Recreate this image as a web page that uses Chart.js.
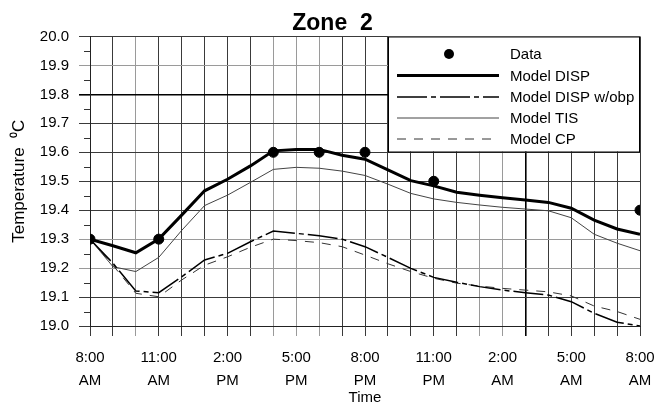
<!DOCTYPE html>
<html><head><meta charset="utf-8">
<script src="https://cdn.jsdelivr.net/npm/chart.js@4.4.0/dist/chart.umd.min.js"></script>
<style>html,body{margin:0;padding:0;background:#fff}#wrap{width:656px;height:405px}</style>
</head><body><div id="wrap"><canvas id="c" width="656" height="405"></canvas></div>
<script>
// hours after 8:00 AM
const hours = [0,1,2,3,4,5,6,7,8,9,10,11,12,13,14,15,16,17,18,19,20,21,22,23,24];
const xTickLabels = [['8:00','AM'],['11:00','AM'],['2:00','PM'],['5:00','PM'],['8:00','PM'],['11:00','PM'],['2:00','AM'],['5:00','AM'],['8:00','AM']];
const dataHours = [0,3,8,10,12,15,24];
const dataTemps = [19.30,19.30,19.60,19.60,19.60,19.50,19.40];
const dispTemps = [19.30,19.277,19.253,19.30,19.383,19.467,19.507,19.553,19.605,19.61,19.61,19.59,19.576,19.539,19.502,19.484,19.462,19.452,19.443,19.435,19.427,19.407,19.366,19.335,19.317];
const dispObpTemps = [19.30,19.217,19.121,19.115,19.17,19.228,19.251,19.291,19.328,19.32,19.312,19.30,19.274,19.237,19.199,19.168,19.151,19.136,19.124,19.115,19.107,19.084,19.044,19.013,19.0];
const tisTemps = [19.30,19.205,19.188,19.237,19.33,19.416,19.452,19.496,19.541,19.548,19.545,19.535,19.52,19.49,19.458,19.439,19.427,19.418,19.41,19.404,19.398,19.374,19.317,19.286,19.26];
const cpTemps = [19.30,19.21,19.113,19.101,19.159,19.21,19.239,19.272,19.30,19.295,19.288,19.274,19.245,19.215,19.188,19.165,19.148,19.138,19.13,19.124,19.118,19.104,19.069,19.05,19.023];
const seriesLabels = ['Data','Model DISP','Model DISP w/obp','Model TIS','Model CP'];

const FONT = "'Liberation Sans', Arial, Helvetica, sans-serif";
const pairs = (xs, ys) => xs.map((x, i) => ({x, y: ys[i]}));

const legendPlugin = {
  id: 'boxLegend',
  beforeDatasetsDraw(chart) {
    const {ctx, chartArea: a} = chart;
    const x0 = 388, y0 = a.top, x1 = a.right, y1 = 151.5;
    ctx.save();
    ctx.fillStyle = '#fff';
    ctx.fillRect(x0, y0, x1 - x0, y1 - y0);
    ctx.strokeStyle = '#000';
    ctx.lineWidth = 1;
    ctx.strokeRect(x0 + 0.5, y0 + 0.5, x1 - x0 - 1, y1 - y0);
    const rows = [54, 75.5, 97, 118, 139];
    chart.data.datasets.forEach((ds, i) => {
      const y = rows[i];
      if (ds.showLine === false) {
        ctx.beginPath();
        ctx.fillStyle = ds.pointBackgroundColor;
        ctx.arc(449, y, ds.pointRadius, 0, Math.PI * 2);
        ctx.fill();
      } else {
        ctx.beginPath();
        ctx.strokeStyle = ds.borderColor;
        ctx.lineWidth = ds.borderWidth;
        ctx.setLineDash(ds.borderDash || []);
        ctx.moveTo(397, y);
        ctx.lineTo(499, y);
        ctx.stroke();
        ctx.setLineDash([]);
      }
      ctx.fillStyle = '#000';
      ctx.font = '15px ' + FONT;
      ctx.textBaseline = 'middle';
      ctx.textAlign = 'left';
      ctx.fillText(ds.label, 510, y + 1);
    });
    ctx.restore();
  }
};

const minorTicks = {
  id: 'minorTicks',
  afterDraw(chart) {
    const {ctx, chartArea: a, scales} = chart;
    ctx.save();
    ctx.strokeStyle = '#333';
    ctx.lineWidth = 1;
    for (let k = 0; k < 10; k++) {
      const v = 19.05 + k * 0.1;
      const y = Math.round(scales.y.getPixelForValue(v)) + 0.5;
      ctx.beginPath();
      ctx.moveTo(a.left - 6, y);
      ctx.lineTo(a.left, y);
      ctx.stroke();
    }
    ctx.restore();
  }
};

const grayX = [2, 8, 9, 10, 17, 18];
new Chart(document.getElementById('c'), {
  type: 'line',
  data: {
    datasets: [
      {label: seriesLabels[0], data: pairs(dataHours, dataTemps), showLine: false, pointRadius: 5, pointBackgroundColor: '#000', pointBorderColor: '#000', borderColor: '#000'},
      {label: seriesLabels[1], data: pairs(hours, dispTemps), borderColor: '#000', borderWidth: 3, pointRadius: 0},
      {label: seriesLabels[2], data: pairs(hours, dispObpTemps), borderColor: '#000', borderWidth: 1.5, borderDash: [30, 4, 5, 4], pointRadius: 0},
      {label: seriesLabels[3], data: pairs(hours, tisTemps), borderColor: '#444', borderWidth: 1, pointRadius: 0},
      {label: seriesLabels[4], data: pairs(hours, cpTemps), borderColor: '#333', borderWidth: 1, borderDash: [9, 8], pointRadius: 0}
    ]
  },
  options: {
    responsive: false,
    animation: false,
    devicePixelRatio: 1,
    layout: {padding: {left: 25, right: 16, top: 0, bottom: 0}},
    elements: {line: {tension: 0}},
    plugins: {
      legend: {display: false},
      tooltip: {enabled: false},
      title: {display: true, text: 'Zone  2', color: '#000', font: {family: FONT, size: 23, weight: 'bold', lineHeight: 1}, padding: {top: 12.5, bottom: 1}}
    },
    scales: {
      x: {
        type: 'linear', min: 0, max: 24,
        afterFit: s => { s.height = 79; s.paddingLeft = 0; s.paddingRight = 0; },
        border: {color: '#222', width: 1},
        grid: {
          color: c => grayX.includes(c.tick && c.tick.value) ? '#9a9a9a' : (c.tick && c.tick.value === 19 ? '#000' : '#3a3a3a'),
          lineWidth: c => (c.tick && c.tick.value === 19) ? 1.6 : 1,
          tickLength: 10
        },
        ticks: {
          stepSize: 1, autoSkip: false, maxRotation: 0, minRotation: 0, padding: 10, color: '#000',
          font: {family: FONT, size: 15, lineHeight: 1.53},
          callback: v => (v % 3 === 0 ? xTickLabels[v / 3] : '')
        },
        title: {display: true, text: 'Time', color: '#000', font: {family: FONT, size: 15, lineHeight: 1}, padding: {top: 0, bottom: 0}}
      },
      y: {
        min: 19.0, max: 20.0,
        afterFit: s => { s.width = 65; s.paddingTop = 0; s.paddingBottom = 0; },
        border: {color: '#222', width: 1},
        grid: {
          color: c => {
            const k = Math.round(c.tick.value * 10);
            if (k === 198) return '#000';
            if (k === 199 || k === 193 || k === 192) return '#9a9a9a';
            return '#3a3a3a';
          },
          lineWidth: c => Math.round(c.tick.value * 10) === 198 ? 1.6 : 1,
          tickLength: 11
        },
        ticks: {
          stepSize: 0.1, padding: 10, color: '#000',
          font: {family: FONT, size: 15},
          callback: v => v.toFixed(1)
        },
        title: {display: true, text: 'Temperature  ⁰C', color: '#000', font: {family: FONT, size: 17, lineHeight: 1}, padding: {top: -14.5, bottom: 0}}
      }
    }
  },
  plugins: [legendPlugin, minorTicks]
});
</script>
</body></html>
